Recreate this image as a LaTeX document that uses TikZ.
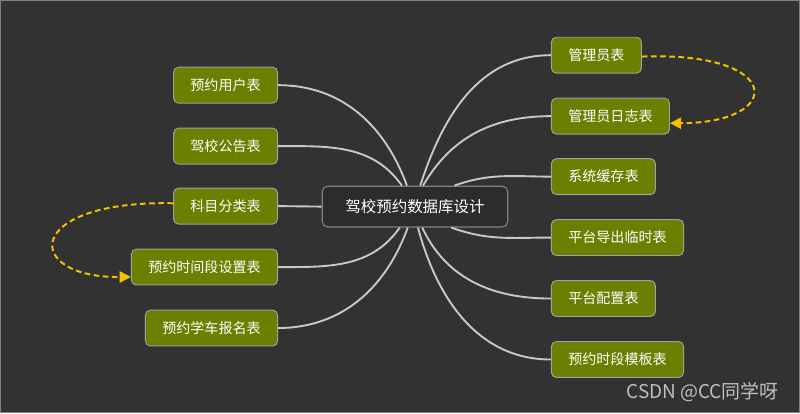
\documentclass[tikz,border=0pt]{standalone}
\usepackage{fontspec}
\setmainfont{Noto Sans CJK SC}
\usepackage{xcolor}
\usepackage{tikz}
\usetikzlibrary{arrows.meta}
\definecolor{bgdark}{RGB}{50,50,50}
\definecolor{hubfill}{RGB}{44,44,44}
\definecolor{olivebox}{RGB}{106,128,0}
\definecolor{boxedge}{RGB}{160,160,160}
\definecolor{linkgray}{RGB}{200,200,200}
\definecolor{depgold}{RGB}{245,192,0}

\begin{document}
\begin{tikzpicture}[x=0.025cm, y=0.025cm,
    every node/.style={text=white},
    tbl/.style={draw=boxedge, line width=0.7pt, fill=olivebox, rounded corners=3.5pt,
      inner xsep=12pt, minimum height=25.5pt, font=\fontsize{10}{12}\selectfont},
    hub/.style={draw=gray, line width=0.8pt, fill=hubfill, rounded corners=4pt,
      inner xsep=16.5pt, minimum height=29pt, font=\fontsize{11}{13}\selectfont},
    link/.style={linkgray, line width=1.35pt},
    dep/.style={depgold, line width=1.4pt, dash pattern=on 4pt off 2.5pt, -{Triangle[length=8pt,width=8pt]}}]
    \fill[bgdark] (0,0) rectangle (800,413);
    \draw[gray, line width=1pt] (0.5,0.5) rectangle (799.5,412.5);
    \useasboundingbox (0,0) rectangle (800,413);

    \node[hub] (ctr) at (415,206.5) {驾校预约数据库设计};

    \node[tbl, anchor=east] (n1) at (278,328) {预约用户表};
    \node[tbl, anchor=east] (n2) at (278,267) {驾校公告表};
    \node[tbl, anchor=east] (n3) at (278,207) {科目分类表};
    \node[tbl, anchor=east] (n4) at (278,146) {预约时间段设置表};
    \node[tbl, anchor=east] (n5) at (278,85) {预约学车报名表};

    \node[tbl, anchor=west] (m1) at (551,358) {管理员表};
    \node[tbl, anchor=west] (m2) at (551,297) {管理员日志表};
    \node[tbl, anchor=west] (m3) at (551,236.5) {系统缓存表};
    \node[tbl, anchor=west] (m4) at (551,175.5) {平台导出临时表};
    \node[tbl, anchor=west] (m5) at (551,114.5) {平台配置表};
    \node[tbl, anchor=west] (m6) at (551,53.5) {预约时段模板表};

    \draw[link] (n1.east) to[out=0, in=110] (ctr.111);
    \draw[link] (n2.east) to[out=0, in=125] (ctr.122);
    \draw[link] (n3.east) -- (ctr.west);
    \draw[link] (n4.east) to[out=0, in=235] (ctr.234);
    \draw[link] (n5.east) to[out=0, in=250] (ctr.251);

    \draw[link] (ctr.76) to[out=72, in=180] (m1.west);
    \draw[link] (ctr.69) to[out=60, in=180] (m2.west);
    \draw[link] (ctr.28) to[out=20, in=180] (m3.west);
    \draw[link] (ctr.330) to[out=-20, in=180] (m4.west);
    \draw[link] (ctr.289) to[out=-65, in=180] (m5.west);
    \draw[link] (ctr.278) to[out=-75, in=180] (m6.west);

    \draw[dep] ([yshift=-1pt]m1.east) .. controls (785,362) and (785,290) .. ([yshift=-5pt]m2.east);
    \draw[dep] ([yshift=2pt]n3.west) .. controls (22,213) and (22,135) .. ([yshift=-7pt]n4.west);

    \node[text=lightgray, font=\fontsize{13.5}{15}\selectfont, anchor=east] (mark) at (784,21) {CSDN @CC同学呀};
  \end{tikzpicture}
\end{document}
